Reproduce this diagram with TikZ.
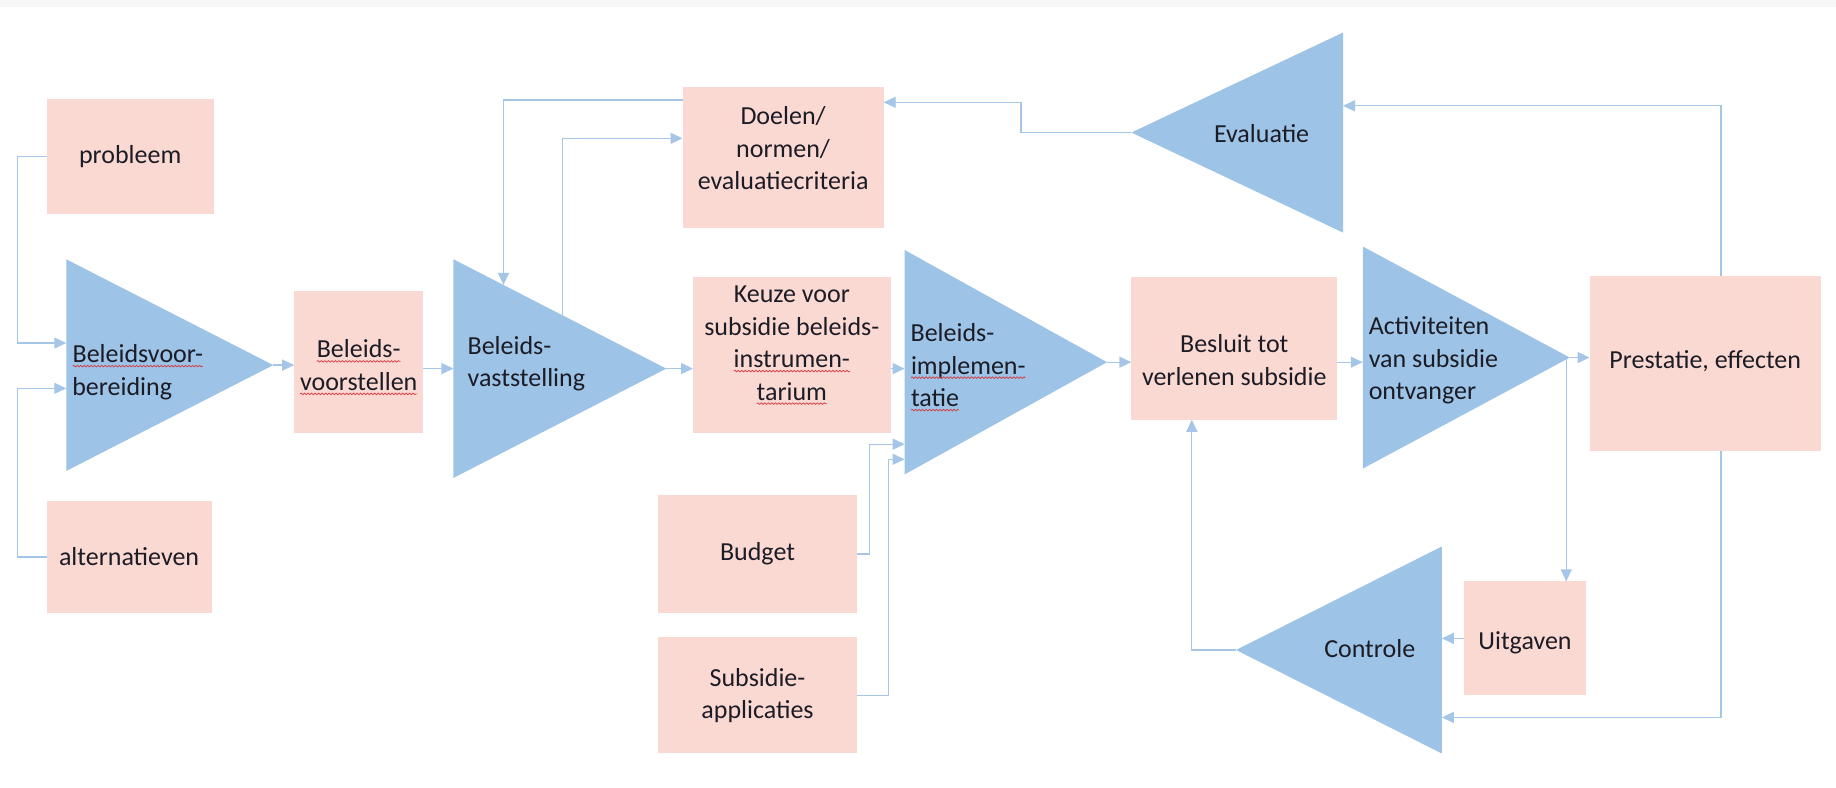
\documentclass[tikz,border=0pt]{standalone}
\usepackage{fontspec}
\setmainfont{Carlito}
\usetikzlibrary{arrows.meta,decorations.pathmorphing}
\definecolor{pinkbox}{RGB}{251,217,211}
\definecolor{tricol}{RGB}{157,195,230}
\definecolor{linecol}{RGB}{165,198,230}
\definecolor{txtcol}{RGB}{28,28,38}
\definecolor{spell}{RGB}{215,55,60}
\tikzset{
  pbox/.style={fill=pinkbox, draw=none, inner sep=0pt, outer sep=0pt},
  txt/.style={text=txtcol, font=\fontsize{26}{32.5}\selectfont, inner sep=0pt},
  tri/.style={fill=tricol},
  conn/.style={draw=linecol, line width=1.3pt, -{Triangle[length=12pt,width=11pt]}},
}
\newcommand\wv[1]{\tikz[baseline=(w.base)]{\node[inner sep=0pt,outer sep=0pt,anchor=base,fill=none,draw=none,minimum width=0pt,minimum height=0pt](w) at (0,0){#1};\draw[spell,line width=0.7pt,decorate,decoration={snake,amplitude=0.8pt,segment length=3.5pt}] ([yshift=-3.5pt]w.base west)--([yshift=-3.5pt]w.base east);}}
\newcommand\pbx[7]{\node[pbox, minimum width={(#4-#2)*1.163pt}, minimum height={(#5-#3)*1.163pt}] (#1) at ({(#2+#4)/2},{(#3+#5)/2}) {};
\node[txt, align=center] (#1t) at ({(#2+#4)/2},{(#3+#5)/2+#7}) {#6};}
\newcommand\rtri[5]{\coordinate (#1a) at (#2,#3); \coordinate (#1b) at (#2,#4); \coordinate (#1c) at (#5,{(#3+#4)/2});
\fill[tri] (#1a)--(#1c)--(#1b)--cycle;}
\begin{document}
\begin{tikzpicture}[x=1.163pt,y=-1.163pt]
\useasboundingbox (0,0) rectangle (1579,677);
\fill[white] (0,0) rectangle (1579,677);
\fill[black!3] (0,0) rectangle (1579,6);
% triangles
\rtri{T1}{57}{223}{405}{235}
\rtri{T2}{390}{223}{411}{573}
\rtri{T3}{778}{215}{408}{952}
\rtri{T4}{1172}{212}{403}{1350}
\rtri{T5}{1155}{28}{200}{973}
\rtri{T6}{1240}{470}{648}{1063}
% boxes
\pbx{prob}{40}{85}{184}{184}{probleem}{0}
\pbx{alt}{40}{431}{182}{527}{alternatieven}{0}
\pbx{vst}{253}{250}{364}{372}{\wv{Beleids-}\\\wv{voorstellen}}{5}
\pbx{doel}{587}{75}{760}{196}{Doelen/\\normen/\\evaluatiecriteria}{-8}
\pbx{keuze}{596}{238}{766}{372}{Keuze voor\\subsidie beleids-\\\wv{instrumen-}\\\wv{tarium}}{-8}
\pbx{budget}{566}{426}{737}{527}{Budget}{0}
\pbx{subs}{566}{548}{737}{648}{Subsidie-\\applicaties}{0}
\pbx{besl}{973}{238}{1150}{361}{Besluit tot\\verlenen subsidie}{10}
\pbx{pre}{1367}{237}{1566}{388}{Prestatie, effecten}{-2}
\pbx{uit}{1259}{500}{1364}{598}{Uitgaven}{4}
% triangle texts
\node[txt, anchor=west, align=left] (T1t) at (62,320) {\wv{Beleidsvoor-}\\bereiding};
\node[txt, anchor=west, align=left] (T2t) at (402,313) {Beleids-\\vaststelling};
\node[txt, anchor=west, align=left] (T3t) at (783,316) {Beleids-\\\wv{implemen-}\\\wv{tatie}};
\node[txt, anchor=west, align=left] (T4t) at (1177,310) {Activiteiten\\van subsidie\\ontvanger};
\node[txt] (T5t) at (1085,115) {Evaluatie};
\node[txt] (T6t) at (1178,558) {Controle};
% bend coordinates
\coordinate (c1) at (15,295);
\coordinate (c2) at (15,334);
\coordinate (b1) at (748,382);
\coordinate (b2) at (764,395);
\coordinate (d1) at (433,86);
\coordinate (d1e) at (433,245);
\coordinate (d2s) at (484,271);
\coordinate (d2) at (484,119);
\coordinate (e2) at (878,88);
\coordinate (p1) at (1480,91);
\coordinate (p2) at (1480,617);
\coordinate (a1) at (1347,309);
\coordinate (k1) at (1025,559);
% connectors
\draw[conn] (prob.west) -| (c1) -- (c1 -| T1a);
\draw[conn] (alt.west) -| (c2) -- (c2 -| T1a);
\draw[conn] (T1c) -- (T1c -| vst.west);
\draw[conn] (vst.east |- T2c) -- (T2a |- T2c);
\draw[conn] (T2c) -- (T2c -| keuze.west);
\draw[conn] (keuze.east |- T2c) -- (T3a |- T2c);
\draw[conn] (T3c) -- (T3c -| besl.west);
\draw[conn] (besl.east |- T3c) -- (T4a |- T3c);
\draw[conn] (T4c) -- (T4c -| pre.west);
\draw[conn] (budget.east) -| (b1) -- (b1 -| T3a);
\draw[conn] (subs.east) -| (b2) -- (b2 -| T3a);
\draw[conn] (doel.west |- d1) -- (d1) -- (d1e);
\draw[conn] (d2s) -- (d2) -- (d2 -| doel.west);
\draw[conn] (T5c) -| (e2) -- (e2 -| doel.east);
\draw[conn] (pre.north -| p1) -- (p1) -- (p1 -| T5a);
\draw[conn] (a1) -- (a1 |- uit.north);
\draw[conn] (uit.west) -- (uit.west -| T6a);
\draw[conn] (pre.south -| p2) -- (p2) -- (p2 -| T6a);
\draw[conn] (T6c) -- (k1) -- (k1 |- besl.south);
\end{tikzpicture}
\end{document}
